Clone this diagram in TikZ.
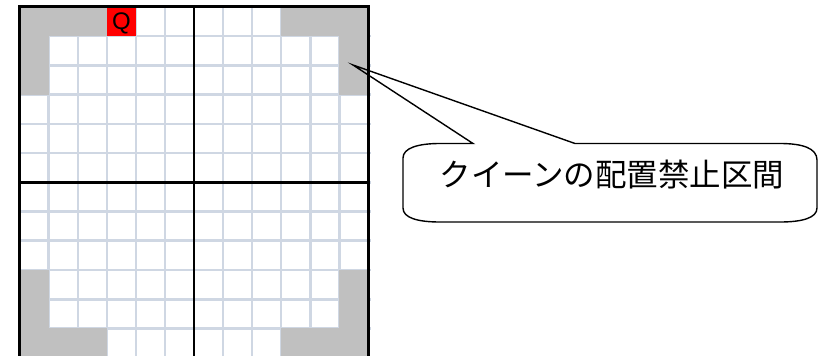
\documentclass[tikz,border=0pt]{standalone}
\usepackage{fontspec}
\setmainfont{Liberation Sans}
\newfontfamily\cjkfont{Noto Sans CJK JP}
\definecolor{gridc}{HTML}{CFD7E3}
\definecolor{grayc}{HTML}{C0C0C0}
\def\cellx#1{(19.7+(#1)*29.05)}
\def\celly#1{(6.9+(#1)*29.23)}
\begin{document}
\begin{tikzpicture}[x=1pt,y=-1pt,
  gridline/.style={gridc,line width=2.6pt},
  boldline/.style={black,line width=2.9pt},
  forbid/.style={fill=grayc},
  queen/.style={fill=red},
  callout/.style={draw=black,line width=1.4pt,line join=miter},
  qlabel/.style={font=\fontsize{24}{24}\selectfont,inner sep=0pt},
  clabel/.style={font=\cjkfont\fontsize{31.5}{31.5}\selectfont,inner sep=0pt}]
\useasboundingbox (0,0) rectangle (822,356);
\clip (0,0) rectangle (822,356);
\fill[white] (0,0) rectangle (822,356);
% grid
\foreach \i in {1,...,11} {
  \draw[gridline] ({\cellx{\i}},{\celly{0}}) -- ({\cellx{\i}},{\celly{12}});
  \draw[gridline] ({\cellx{0}},{\celly{\i}}) -- ({\cellx{12}+3},{\celly{\i}});
}
% forbidden zones
\fill[forbid] ({\cellx{0}},{\celly{0}}) rectangle ({\cellx{3}},{\celly{1}});
\fill[forbid] ({\cellx{0}},{\celly{0}}) rectangle ({\cellx{1}},{\celly{3}});
\fill[forbid] ({\cellx{9}},{\celly{0}}) rectangle ({\cellx{12}},{\celly{1}});
\fill[forbid] ({\cellx{11}},{\celly{0}}) rectangle ({\cellx{12}},{\celly{3}});
\fill[forbid] ({\cellx{0}},{\celly{9}}) rectangle ({\cellx{1}},{\celly{12}});
\fill[forbid] ({\cellx{0}},{\celly{11}}) rectangle ({\cellx{3}},{\celly{12}});
\fill[forbid] ({\cellx{11}},{\celly{9}}) rectangle ({\cellx{12}},{\celly{12}});
\fill[forbid] ({\cellx{9}},{\celly{11}}) rectangle ({\cellx{12}},{\celly{12}});
% queen
\fill[queen] ({\cellx{3}},{\celly{0}}) rectangle ({\cellx{4}},{\celly{1}});
\node[qlabel] (q) at ({\cellx{3.5}},{\celly{0.58}}) {Q};
% bold lines
\draw[boldline] ({\cellx{0}},{\celly{12}}) -- ({\cellx{0}},{\celly{0}}) -- ({\cellx{12}},{\celly{0}}) -- ({\cellx{12}},{\celly{12}}) -- cycle;
\draw[boldline] ({\cellx{6}},{\celly{0}}) -- ({\cellx{6}},{\celly{12}});
\draw[boldline] ({\cellx{0}},{\celly{6}}) -- ({\cellx{12}},{\celly{6}});
% callout
\coordinate (tip) at (353,65);
\draw[callout] (473,143.5) -- (tip) -- (575,143.5) -- (780,143.5)
  .. controls (802,143.5) and (817,148) .. (817,160) -- (817,208)
  .. controls (817,218) and (802,222) .. (780,222) -- (440,222)
  .. controls (418,222) and (403,218) .. (403,208) -- (403,158)
  .. controls (403,148) and (418,143.5) .. (440,143.5) -- cycle;
\node[clabel] (lbl) at (612,175) {クイーンの配置禁止区間};
\end{tikzpicture}
\end{document}
